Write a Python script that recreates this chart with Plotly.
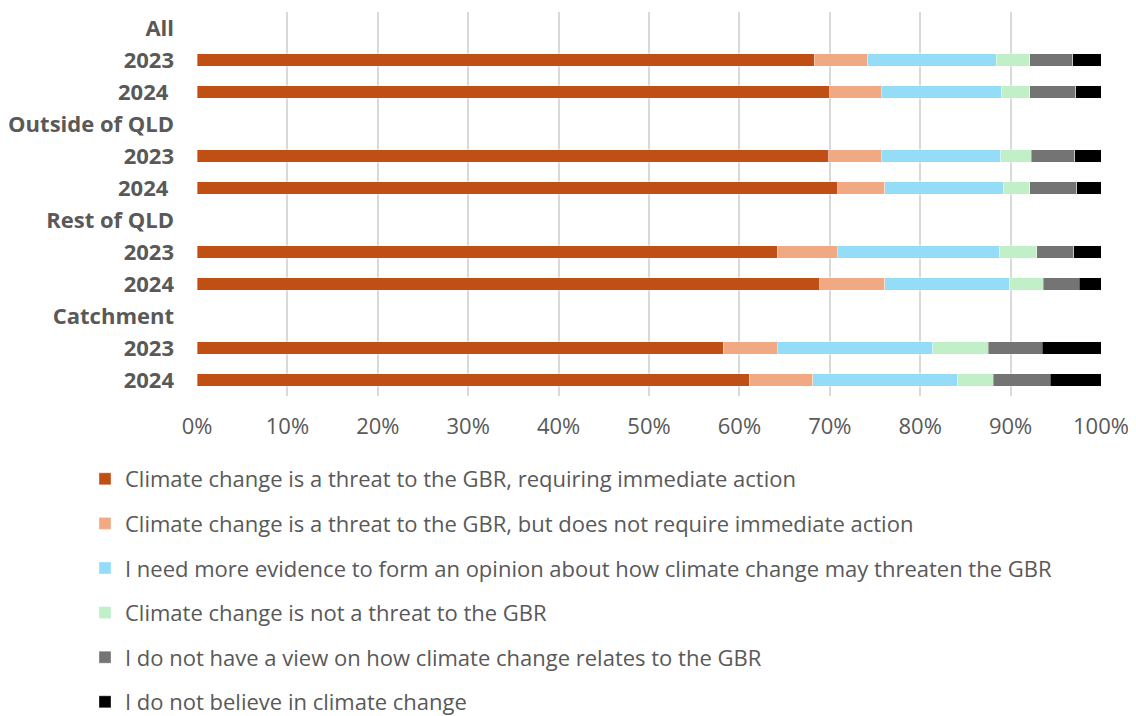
import plotly.graph_objects as go

row_labels = ["All", "2023", "2024 ", "Outside of QLD", "2023", "2024 ", "Rest of QLD", "2023", "2024", "Catchment", "2023", "2024"]

series_names = [
    "Climate change is a threat to the GBR, requiring immediate action",
    "Climate change is a threat to the GBR, but does not require immediate action",
    "I need more evidence to form an opinion about how climate change may threaten the GBR",
    "Climate change is not a threat to the GBR",
    "I do not have a view on how climate change relates to the GBR",
    "I do not believe in climate change",
]

# values per row (None for header rows), in percent
immediate   = [None, 68.3, 70.0, None, 69.9, 70.9, None, 64.2, 68.9, None, 58.2, 61.1]
not_immed   = [None, 5.9, 5.7, None, 5.8, 5.2, None, 6.6, 7.2, None, 6.0, 7.0]
more_evid   = [None, 14.2, 13.3, None, 13.2, 13.1, None, 18.0, 13.8, None, 17.2, 16.0]
not_threat  = [None, 3.7, 3.1, None, 3.4, 2.9, None, 4.1, 3.7, None, 6.1, 4.0]
no_view     = [None, 4.8, 5.1, None, 4.8, 5.2, None, 4.1, 4.0, None, 6.0, 6.3]
no_believe  = [None, 3.1, 2.8, None, 2.9, 2.7, None, 3.0, 2.4, None, 6.5, 5.6]

series_values = [immediate, not_immed, more_evid, not_threat, no_view, no_believe]
colors = ["#C04F15", "#F1A983", "#94DCF8", "#C1F0C8", "#747474", "#000000"]

n = len(row_labels)
ypos = [n - 1 - i for i in range(n)]

W, H = 1128, 708  # page body has an 8px default margin

fig = go.Figure()
for name, vals, col in zip(series_names, series_values, colors):
    fig.add_trace(go.Bar(
        x=[v / 100 if v is not None else None for v in vals],
        y=ypos,
        name=name,
        orientation="h",
        marker=dict(color=col, line=dict(width=0.6, color="rgba(255,255,255,0.6)")),
        width=0.4,
        legendgroup=name,
    ))

fig.update_layout(
    barmode="stack",
    width=W, height=H,
    margin=dict(l=189, r=35, t=4, b=320, autoexpand=False),
    plot_bgcolor="white", paper_bgcolor="white",
    font=dict(family="Open Sans", color="#595959"),
    xaxis=dict(
        range=[0, 1], tickformat=".0%", dtick=0.1,
        showgrid=True, gridcolor="#D9D9D9", gridwidth=2,
        zeroline=False, showline=False,
        tickfont=dict(size=22, color="#595959"),
        ticks="", ticklabelstandoff=15, tickangle=0,
    ),
    yaxis=dict(
        range=[-0.5, n - 0.5],
        tickvals=ypos, ticktext=row_labels,
        showgrid=False, zeroline=False, showline=False,
        tickfont=dict(size=22, color="#595959", family="Open Sans", weight="bold"),
        ticks="", ticklabelstandoff=22,
    ),
    legend=dict(
        orientation="v",
        xref="container", yref="container",
        x=77 / W, y=1 - 450 / H,
        xanchor="left", yanchor="top",
        font=dict(size=22, color="#595959"),
        tracegroupgap=13,
        traceorder="grouped",
    ),
    showlegend=True,
)

fig.write_html("out.html")
